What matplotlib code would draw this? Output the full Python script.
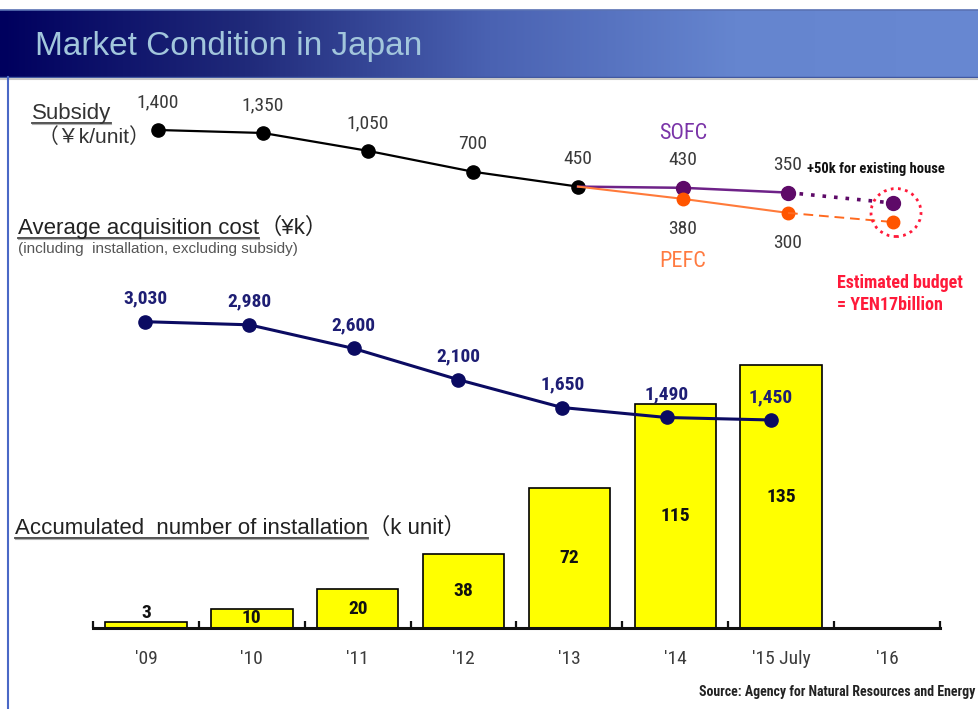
import matplotlib
matplotlib.use("Agg")
import matplotlib.pyplot as plt
import numpy as np
from matplotlib import font_manager
from matplotlib.colors import LinearSegmentedColormap
from matplotlib.patches import Ellipse
from matplotlib.lines import Line2D
from matplotlib.transforms import IdentityTransform

# ---- data -------------------------------------------------------------
years = ["'09", "'10", "'11", "'12", "'13", "'14", "'15 July", "'16"]
installations = [3, 10, 20, 38, 72, 115, 135]          # k units (accumulated)
acquisition_cost = [3030, 2980, 2600, 2100, 1650, 1490, 1450]  # ¥k
subsidy = [1400, 1350, 1050, 700, 450]                 # ¥k/unit, '09-'13
sofc_subsidy = [430, 350]                              # '14, '15
pefc_subsidy = [380, 300]                              # '14, '15
sofc_plan_2016 = 175                                   # planned, unlabelled
pefc_plan_2016 = 248                                   # planned, unlabelled

# ---- figure & fonts ---------------------------------------------------
W, H = 979, 709
fig = plt.figure(figsize=(W / 100, H / 100), dpi=100)
fig.patch.set_facecolor("white")

available = {f.name for f in font_manager.fontManager.ttflist}


def pick(cands, default):
    for c in cands:
        if c in available:
            return c
    return default


SANS = pick(["Liberation Sans", "Arial"], "DejaVu Sans")
NARROW = pick(["Liberation Sans Narrow", "Arial Narrow", "DejaVu Sans Condensed",
               "Roboto Condensed"], SANS)
NS = 1.0 if NARROW != SANS else 0.84
CJK = "Noto Sans CJK JP"


def pt(px):
    return px * 72 / 100


# ---- background layer in pixel coordinates ----------------------------
ax_px = fig.add_axes([0, 0, 1, 1])
ax_px.axis("off")
grad = np.linspace(0, 1, 512).reshape(1, -1)
bar_cmap = LinearSegmentedColormap.from_list(
    "titlebar", ["#00005e", "#202a7a", "#4a62b2", "#6585cf", "#6888d2"])
ax_px.imshow(grad, extent=[0, W, 77, 10], aspect="auto", cmap=bar_cmap,
             interpolation="bicubic")
ax_px.plot([0, W], [10, 10], color="#5a72b4", lw=1.2)
ax_px.plot([0, W], [76.5, 76.5], color="#3c55a0", lw=1.0)
ax_px.plot([0, W], [78.5, 78.5], color="#c8c8c8", lw=1.5)
ax_px.plot([8.5, 8.5], [77, H], color="#4a68c6", lw=1.5)
ax_px.set_xlim(0, W)
ax_px.set_ylim(H, 0)

ax_px.text(35, 46, "Market Condition in Japan", fontsize=24, color="#a2c6dc",
           va="center", family=SANS)

renderer = fig.canvas.get_renderer()
inv = ax_px.transData.inverted()


def heading(x, y, s, size, color, tail=None):
    t = ax_px.text(x, y, s, fontsize=size, color=color, va="baseline",
                   family=[SANS, CJK])
    bb = t.get_window_extent(renderer=renderer)
    x0 = inv.transform((bb.x0, 0))[0]
    x1 = inv.transform((bb.x1, 0))[0]
    ax_px.plot([x0, x1], [y + 3.5, y + 3.5], color="#444444", lw=1.3)
    ax_px.plot([x0, x1], [y + 5, y + 5], color="#b0b0b0", lw=0.8)
    if tail:
        ax_px.text(x1, y, tail, fontsize=size, color=color, va="baseline",
                   family=[SANS, CJK])


heading(32, 119, "Subsidy", 16, "#333333")
ax_px.text(38, 143, "（￥k/unit）", fontsize=15, color="#333333", va="baseline",
           family=[SANS, CJK])
heading(18, 234, "Average acquisition cost", 16, "#222222", tail="（¥k）")
ax_px.text(18, 253, "(including  installation, excluding subsidy)", fontsize=11,
           color="#555555", va="baseline", family=SANS)
heading(15, 534, "Accumulated  number of installation", 16, "#222222",
        tail="（k unit）")

# ---- installation bars -------------------------------------------------
BAR_PPU = 1.948
ax_bar = fig.add_axes([93 / W, (H - 628) / H, 847 / W, 328 / H])
xb = np.arange(len(years))
ax_bar.bar(xb[:len(installations)], installations, width=0.77, color="#ffff00",
           edgecolor="black", linewidth=1.2, zorder=2)
ax_bar.set_xlim(-0.5, len(years) - 0.5)
ax_bar.set_ylim(0, 328 / BAR_PPU)
ax_bar.patch.set_visible(False)
for s in ["top", "right", "left"]:
    ax_bar.spines[s].set_visible(False)
ax_bar.spines["bottom"].set_linewidth(2.2)
ax_bar.spines["bottom"].set_color("#111111")
ax_bar.set_yticks([])
ax_bar.set_xticks(xb)
ax_bar.set_xticklabels(years)
ax_bar.set_xticks(np.arange(-0.5, len(years)), minor=True)
ax_bar.tick_params(axis="x", which="major", length=0, pad=16,
                   labelsize=14 * NS, labelcolor="#3c3c3c")
ax_bar.tick_params(axis="x", which="minor", direction="in", length=5, width=1.6,
                   color="#111111")
for lbl in ax_bar.get_xticklabels():
    lbl.set_family(NARROW)
for i, v in enumerate(installations):
    if v * BAR_PPU < 14:
        ax_bar.text(i, v, f"{v}", ha="center", va="bottom", fontsize=14 * NS,
                    fontweight="bold", family=NARROW, color="#111111", zorder=3)
    else:
        ax_bar.text(i, v / 2, f"{v}", ha="center", va="center", fontsize=14 * NS,
                    fontweight="bold", family=NARROW, color="#111111", zorder=3)


# ---- overlay axes for the two line series ------------------------------
def overlay(x0, dx, v0, y0, ppu):
    ax = fig.add_axes([0, 0, 1, 1])
    ax.set_xlim(-x0 / dx, (W - x0) / dx)
    ax.set_ylim(v0 - (H - y0) / ppu, v0 + y0 / ppu)
    ax.axis("off")
    ax.patch.set_visible(False)
    return ax


# average acquisition cost
ax_cost = overlay(145, 104.3, 3030, 321.7, 0.0622)
xc = np.arange(len(acquisition_cost))
ax_cost.plot(xc, acquisition_cost, color="#0b0b62", lw=2.2, marker="o", ms=9.5,
             zorder=3)
for i, v in zip(xc, acquisition_cost):
    ax_cost.annotate(f"{v:,}", (i, v), xytext=(0, pt(23)), textcoords="offset points",
                     ha="center", va="center", fontsize=14 * NS, fontweight="bold",
                     family=NARROW, color="#1e1e74")

# subsidy (common, then SOFC / PEFC split)
ax_sub = overlay(158, 105, 1400, 130, 0.0596)
ax_pefc = overlay(158, 105, 450, 186.6, 0.1755)

xs = np.arange(len(subsidy))
split = len(subsidy) - 1
x_split = np.arange(split, split + 3)

ax_sub.plot(xs, subsidy, color="black", lw=1.6, marker="o", ms=9.5, zorder=3)
ax_sub.plot(x_split, [subsidy[-1]] + sofc_subsidy, color="#6e2288", lw=1.8,
            marker="o", ms=10, mfc="#5e0a68", mec="#5e0a68", markevery=[1, 2],
            zorder=4)
ax_sub.plot([split + 2, split + 3], [sofc_subsidy[-1], sofc_plan_2016],
            color="#5e0a68", lw=2.6, ls=(0, (1, 2.2)), zorder=4)
ax_sub.plot([split + 3], [sofc_plan_2016], "o", color="#5e0a68", ms=10, zorder=4)

ax_pefc.plot(x_split, [subsidy[-1]] + pefc_subsidy, color="#ff7a3a", lw=1.5,
             marker="o", ms=9, mfc="#ff5500", mec="#ff5500", markevery=[1, 2],
             zorder=4)
ax_pefc.plot([split + 2, split + 3], [pefc_subsidy[-1], pefc_plan_2016],
             color="#ff6a20", lw=1.4, ls=(0, (5, 3)), zorder=4)
ax_pefc.plot([split + 3], [pefc_plan_2016], "o", color="#ff5500", ms=9, zorder=4)

lab_kw = dict(textcoords="offset points", ha="center", va="center",
              fontsize=14 * NS, family=NARROW, color="#3a3a3a")
for i, v in zip(xs, subsidy):
    ax_sub.annotate(f"{v:,}", (i, v), xytext=(0, pt(27.5)), **lab_kw)
for i, v in zip(x_split[1:], sofc_subsidy):
    ax_sub.annotate(f"{v:,}", (i, v), xytext=(0, pt(27.5)), **lab_kw)
for i, v in zip(x_split[1:], pefc_subsidy):
    ax_pefc.annotate(f"{v:,}", (i, v), xytext=(0, -pt(30)), **lab_kw)

ax_sub.annotate("SOFC", (split + 1, sofc_subsidy[0]), xytext=(0, pt(54)),
                textcoords="offset points", ha="center", va="center",
                fontsize=16 * NS, family=SANS if NS < 1 else NARROW, color="#7a34a8")
ax_pefc.annotate("PEFC", (split + 1, pefc_subsidy[0]), xytext=(0, -pt(63)),
                 textcoords="offset points", ha="center", va="center",
                 fontsize=16 * NS, family=SANS if NS < 1 else NARROW,
                 color="#ff7a40")
ax_sub.annotate("+50k for existing house", (split + 2, sofc_subsidy[-1]),
                xytext=(pt(19), pt(24)), textcoords="offset points", ha="left",
                va="center", fontsize=10.5 * NS, fontweight="bold", family=NARROW,
                color="#111111")

# dotted ring around the planned values
p1 = ax_sub.transData.transform((split + 3, sofc_plan_2016))
p2 = ax_pefc.transData.transform((split + 3, pefc_plan_2016))
centre = ((p1[0] + p2[0]) / 2 + 3, (p1[1] + p2[1]) / 2)
ring = Ellipse(centre, 50, 48, transform=IdentityTransform(), fill=False,
               ec="#ff1a3a", lw=2.0, ls=(0, (1, 1.6)))
fig.add_artist(ring)

ax_px.text(837, 283, "Estimated budget", fontsize=13 * NS, fontweight="bold",
           family=NARROW, color="#ff1a3a", va="center")
ax_px.text(837, 305, "= YEN17billion", fontsize=13 * NS, fontweight="bold",
           family=NARROW, color="#ff1a3a", va="center")

ax_px.text(975, 692, "Source: Agency for Natural Resources and Energy",
           fontsize=10 * NS, fontweight="bold", family=NARROW, color="#222222",
           ha="right", va="center")

fig.savefig("out.png", dpi=100)
